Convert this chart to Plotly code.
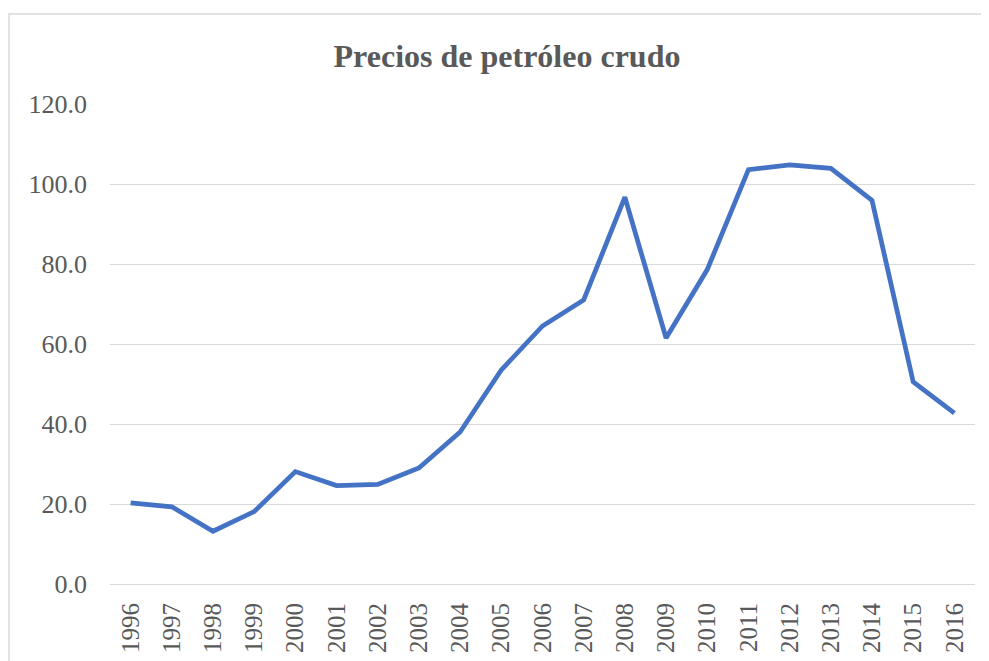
import plotly.graph_objects as go

years = [str(y) for y in range(1996, 2017)]
prices = [20.3, 19.3, 13.2, 18.1, 28.1, 24.6, 24.9, 29.0, 38.0, 53.5, 64.5,
          71.0, 96.7, 61.5, 78.6, 103.6, 104.8, 103.9, 95.9, 50.5, 42.7]
y_ticks = [0, 20, 40, 60, 80, 100, 120]

# page body has an 8px margin, so the figure is sized to fit the window
OFF = 8
W, H = 989 - OFF, 661 - OFF
L, R, T, B = 102, 14, 96, 77
pw, ph = W - L - R, H - T - B

def px(x_screen):
    return (x_screen - OFF - L) / pw

def py(y_screen):
    return (H - B - (y_screen - OFF)) / ph

fig = go.Figure()
fig.add_trace(go.Scatter(
    x=years, y=prices, mode="lines",
    line=dict(color="#4472C4", width=4.75),
    hoverinfo="x+y", showlegend=False,
))

font_family = "Liberation Serif, Times New Roman, serif"

fig.update_layout(
    width=W, height=H,
    margin=dict(l=L, r=R, t=T, b=B, autoexpand=False),
    paper_bgcolor="white", plot_bgcolor="white",
    font=dict(family=font_family, color="#595959", size=26),
    title=dict(
        text="<b>Precios de petróleo crudo</b>",
        font=dict(family=font_family, size=32, color="#595959"),
        x=(507 - OFF) / W, xref="container", xanchor="center",
        y=1 - (56 - OFF) / H, yref="container", yanchor="middle",
    ),
    xaxis=dict(
        type="category", range=[-0.5, len(years) - 0.5],
        tickangle=-90, showgrid=False, showline=False, zeroline=False,
        ticks="", ticklabelstandoff=13, automargin=False,
        tickfont=dict(size=25, color="#595959", family=font_family),
    ),
    yaxis=dict(
        range=[0, 120], tickvals=y_ticks, tickformat=".1f",
        showgrid=True, gridcolor="#d9d9d9", gridwidth=1.3,
        zeroline=True, zerolinecolor="#d9d9d9", zerolinewidth=1.3,
        showline=False, ticks="", ticklabelstandoff=22, automargin=False,
        tickfont=dict(size=26, color="#595959", family=font_family),
    ),
    shapes=[dict(
        type="rect", xref="paper", yref="paper",
        x0=px(9), x1=px(1010), y0=py(680), y1=py(14),
        line=dict(color="#d9d9d9", width=1.5), fillcolor="rgba(0,0,0,0)",
        layer="below",
    )],
)

fig.write_html("out.html")
